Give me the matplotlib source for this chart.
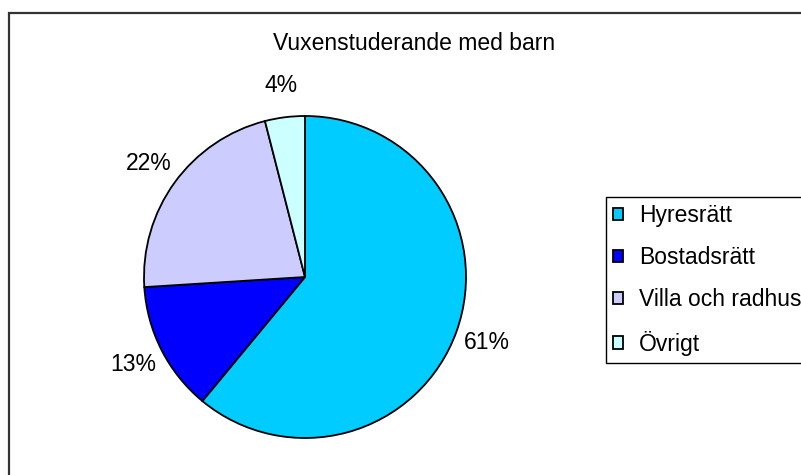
"""Pie chart: boendeform för vuxenstuderande med barn."""

import matplotlib.pyplot as plt
from matplotlib.patches import Rectangle

plt.rcParams["font.family"] = ["Liberation Sans", "DejaVu Sans"]

categories = ["Hyresrätt", "Bostadsrätt", "Villa och radhus", "Övrigt"]
shares = [61, 13, 22, 4]
colors = ["#00CCFF", "#0000FF", "#CCCCFF", "#CCFFFF"]
title = "Vuxenstuderande med barn"

W, H = 801, 475
fig = plt.figure(figsize=(W / 100, H / 100), dpi=100)

# outer chart-area border (runs off the right and bottom edges)
fig.patches.append(Rectangle((9 / W, -0.2), 1.2, 1.2 - 12.5 / H, transform=fig.transFigure,
                             fill=False, edgecolor="#333333", linewidth=1.6))

cx, cy, r = 305, 277, 161
ax = fig.add_axes([(cx - r) / W, (H - cy - r) / H, 2 * r / W, 2 * r / H])
wedges, _, autotexts = ax.pie(
    shares, colors=colors, startangle=90, counterclock=False,
    autopct="%d%%", pctdistance=1.2,
    wedgeprops=dict(edgecolor="black", linewidth=1.3),
    textprops=dict(fontsize=16.5, color="black"),
)
ax.set_xlim(-1, 1)
ax.set_ylim(-1, 1)
ax.set_aspect("auto")
ax.axis("off")

fig.text(414 / W, 1 - 50 / H, title, ha="center", va="baseline", fontsize=16.5)

leg = fig.legend(wedges, categories, loc="upper left",
                 bbox_to_anchor=(606 / W, 1 - 197 / H), borderaxespad=0,
                 fontsize=16.5, frameon=True, fancybox=False, framealpha=1,
                 edgecolor="black", handlelength=0.45, handleheight=0.45,
                 handletextpad=0.7, labelspacing=0.84, borderpad=0.3)
leg.get_frame().set_linewidth(1.0)

fig.savefig("out.png", dpi=100)
